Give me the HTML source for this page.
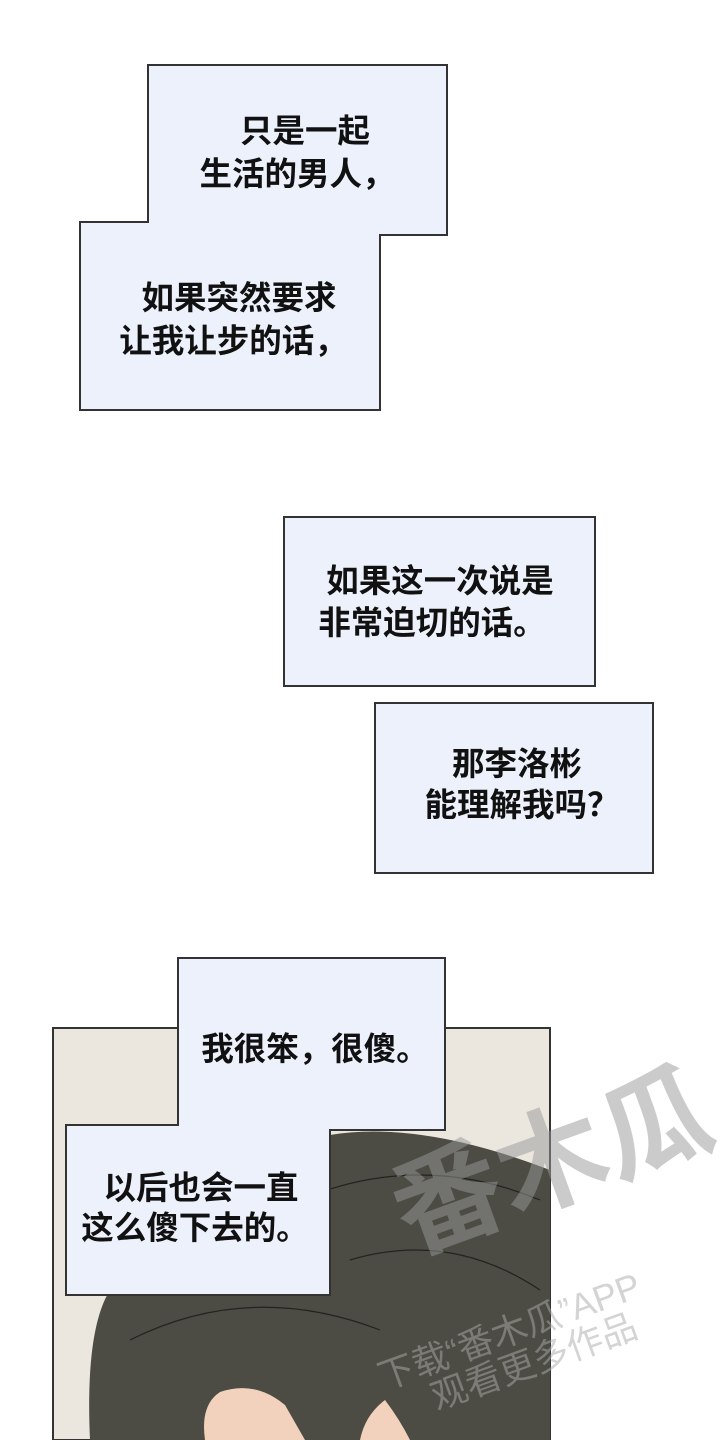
<!DOCTYPE html>
<html><head><meta charset="utf-8"><style>
html,body{margin:0;padding:0;background:#fff;}
svg{display:block}
text{font-family:"Liberation Sans","Noto Sans CJK SC",sans-serif;font-size:32.5px;fill:#111;font-weight:bold}
</style></head><body>
<svg width="720" height="1440" viewBox="0 0 720 1440">
<rect x="53" y="1028" width="497" height="412" fill="#ebe7df" stroke="#333" stroke-width="2"/>
<path d="M330 1135 Q420 1120 550 1170 L550 1440 L90 1440 Q85 1330 110 1290 L330 1290 Z" fill="#4c4c44"/>
<path d="M205 1440 Q200 1405 220 1392 Q255 1380 285 1405 L305 1440 Z" fill="#f2d2bd"/>
<path d="M360 1440 Q365 1415 385 1400 Q400 1420 410 1440 Z" fill="#f2d2bd"/>
<path d="M130 1340 Q250 1280 380 1330 M300 1200 Q420 1150 540 1200 M350 1260 Q450 1230 540 1290" stroke="#222" stroke-width="1.2" fill="none"/>
<g opacity="0.5">
<text x="395" y="1230" style="fill:#999;font-size:110px" transform="rotate(-20 470 1200)">番木瓜</text>
<text x="360" y="1345" style="fill:#aaa;font-size:36px;font-weight:normal" transform="rotate(-20 500 1300)">下载“番木瓜”APP</text>
<text x="420" y="1385" style="fill:#aaa;font-size:36px;font-weight:normal" transform="rotate(-20 500 1350)">观看更多作品</text>
</g>
<path d="M148 65 H447 V235 H380 V410 H80 V222 H148 Z" fill="#edf1fc" stroke="#333" stroke-width="2"/>
<text x="305" y="142" text-anchor="middle">只是一起</text>
<text x="297" y="185" text-anchor="middle">生活的男人，</text>
<text x="239" y="309" text-anchor="middle">如果突然要求</text>
<text x="233" y="352" text-anchor="middle">让我让步的话，</text>

<rect x="284" y="517" width="311" height="169" fill="#edf1fc" stroke="#333" stroke-width="2"/>
<text x="440" y="592" text-anchor="middle">如果这一次说是</text>
<text x="432" y="634" text-anchor="middle">非常迫切的话。</text>

<rect x="375" y="703" width="278" height="170" fill="#edf1fc" stroke="#333" stroke-width="2"/>
<text x="517" y="775" text-anchor="middle">那李洛彬</text>
<text x="522" y="816" text-anchor="middle">能理解我吗？</text>

<path d="M178 958 H445 V1130 H330 V1295 H66 V1125 H178 Z" fill="#edf1fc" stroke="#333" stroke-width="2"/>
<text x="315" y="1060" text-anchor="middle">我很笨，很傻。</text>
<text x="201" y="1199" text-anchor="middle">以后也会一直</text>
<text x="195" y="1239" text-anchor="middle">这么傻下去的。</text>
</svg>
</body></html>
